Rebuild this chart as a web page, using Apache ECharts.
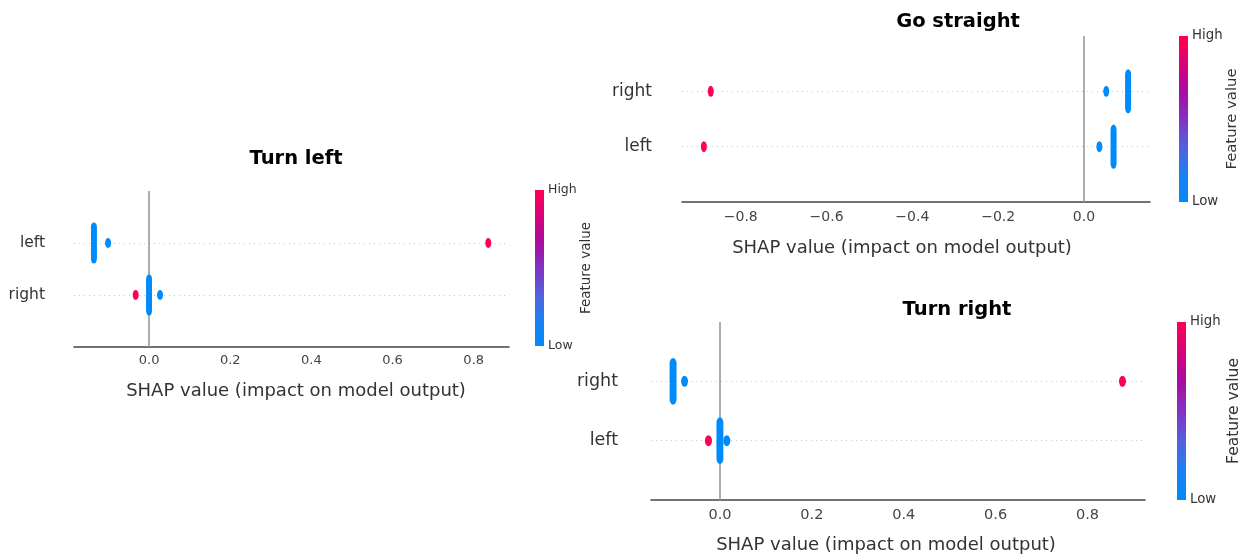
<!DOCTYPE html>
<html>
<head>
<meta charset="utf-8">
<script src="https://cdn.jsdelivr.net/npm/echarts@6/dist/echarts.min.js"></script>
<style>
  html, body { margin: 0; padding: 0; background: #fff; }
  #chart { width: 1245px; height: 557px; }
</style>
</head>
<body>
<div id="chart"></div>
<script>
// Feature names, bottom row first
const turnLeftFeatures = ['right', 'left'];
const goStraightFeatures = ['left', 'right'];
const turnRightFeatures = ['left', 'right'];

// SHAP clusters per feature: [shap value, feature value (0 = low, 1 = high), sample count]
const turnLeftRight = [[-0.033, 1, 1], [0.000, 0, 11], [0.027, 0, 1]];
const turnLeftLeft = [[-0.136, 0, 11], [-0.101, 0, 1], [0.836, 1, 1]];
const goStraightLeft = [[-0.886, 1, 1], [0.036, 0, 1], [0.069, 0, 11]];
const goStraightRight = [[-0.870, 1, 1], [0.052, 0, 1], [0.103, 0, 11]];
const turnRightLeft = [[-0.025, 1, 1], [0.000, 0, 11], [0.015, 0, 1]];
const turnRightRight = [[-0.102, 0, 11], [-0.077, 0, 1], [0.876, 1, 1]];

const panelTitles = ['Turn left', 'Go straight', 'Turn right'];
const xAxisTitle = 'SHAP value (impact on model output)';
const colorbarTitle = 'Feature value';
const colorbarLabels = ['High', 'Low'];

// Low -> high feature value colour ramp
const ramp = ['#008bfb', '#1b80f3', '#5560dc', '#8332c2', '#a80c9f', '#d8017a', '#ff0052'];
const FONT = 'DejaVu Sans';

const panels = [
  { features: turnLeftFeatures, rows: [turnLeftRight, turnLeftLeft],
    grid: { left: 74, top: 191, width: 435, height: 156 }, xMin: -0.185, xMax: 0.887,
    titleX: 296, titleY: 149, nameX: 296, dot: [6, 10], tickFont: 13, labelFont: 15.5, nameGap: 35,
    labelMargin: 7, yLabelMargin: 29,
    bar: { x: 535, y: 190, w: 9, h: 156 }, cbFont: 12.5, cbTitleFont: 13.5, cbTitleX: 586 },
  { features: goStraightFeatures, rows: [goStraightLeft, goStraightRight],
    grid: { left: 682, top: 36, width: 468, height: 166 }, xMin: -0.937, xMax: 0.154,
    titleX: 958, titleY: 12, nameX: 902, dot: [6, 11], tickFont: 14, labelFont: 17, nameGap: 37,
    labelMargin: 8, yLabelMargin: 30,
    bar: { x: 1179, y: 36, w: 9, h: 166 }, cbFont: 13.3, cbTitleFont: 14.8, cbTitleX: 1232 },
  { features: turnRightFeatures, rows: [turnRightLeft, turnRightRight],
    grid: { left: 651, top: 322, width: 494, height: 178 }, xMin: -0.150, xMax: 0.925,
    titleX: 957, titleY: 300, nameX: 886, dot: [7, 11], tickFont: 14.5, labelFont: 17.5, nameGap: 36,
    labelMargin: 8, yLabelMargin: 33,
    bar: { x: 1177, y: 322, w: 9, h: 178 }, cbFont: 13.3, cbTitleFont: 15.5, cbTitleX: 1234 }
];

// Beeswarm stacking: points of one cluster are layered around the row centre
function swarm(rows) {
  const pts = [];
  rows.forEach((clusters, row) => {
    let maxLayer = 0;
    clusters.forEach(c => { maxLayer = Math.max(maxLayer, Math.ceil((c[2] - 1) / 2)); });
    const step = 0.9 * 0.4 / (maxLayer + 1);
    clusters.forEach(([v, level, n]) => {
      for (let i = 0; i < n; i++) {
        const k = Math.ceil(i / 2) * (i % 2 ? 1 : -1);
        pts.push([v, row + k * step, level]);
      }
    });
  });
  return pts;
}

const tickText = v => (v < 0 ? '\u2212' : '') + Math.abs(v).toFixed(1);

const grids = [], xAxes = [], yAxes = [], series = [], titles = [], graphics = [];
const dotSeries = [];

panels.forEach((p, i) => {
  grids.push(Object.assign({ containLabel: false }, p.grid));
  titles.push({
    text: panelTitles[i], left: p.titleX, top: p.titleY,
    textAlign: 'center', padding: 0,
    textStyle: { fontFamily: FONT, fontWeight: 'bold', fontSize: 19.5, color: '#000' }
  });
  // shift the centred axis title horizontally with asymmetric padding
  const shift = 2 * (p.nameX - (p.grid.left + p.grid.width / 2));
  xAxes.push({
    type: 'value', gridIndex: i, min: p.xMin, max: p.xMax, splitNumber: 5,
    name: xAxisTitle, nameLocation: 'middle', nameGap: p.nameGap,
    nameTextStyle: { fontFamily: FONT, fontSize: 18, color: '#333',
      padding: shift >= 0 ? [0, 0, 0, shift] : [0, -shift, 0, 0] },
    axisLine: { show: true, onZero: false, lineStyle: { color: '#444', width: 1.6 } },
    axisTick: { show: false },
    splitLine: { show: false },
    axisLabel: { fontFamily: FONT, fontSize: p.tickFont, color: '#444', margin: p.labelMargin,
      showMinLabel: false, showMaxLabel: false, formatter: tickText }
  });
  yAxes.push({
    type: 'value', gridIndex: i, min: -1, max: 2, interval: 1,
    axisLine: { show: false }, axisTick: { show: false }, splitLine: { show: false },
    axisLabel: { fontFamily: FONT, fontSize: p.labelFont, color: '#333', margin: p.yLabelMargin,
      formatter: v => (v === 0 || v === 1) ? p.features[v] : '' }
  });
  // zero line and dotted row guides behind the dots
  series.push({
    type: 'scatter', xAxisIndex: i, yAxisIndex: i, data: [], z: 1, silent: true,
    markLine: {
      silent: true, symbol: 'none', label: { show: false }, animation: false,
      data: [
        { yAxis: 0, lineStyle: { color: '#c8c8c8', width: 1, type: [1, 4] } },
        { yAxis: 1, lineStyle: { color: '#c8c8c8', width: 1, type: [1, 4] } },
        { xAxis: 0, lineStyle: { color: '#999', width: 1.6, type: 'solid' } }
      ]
    }
  });
  dotSeries.push(series.length);
  series.push({
    type: 'scatter', xAxisIndex: i, yAxisIndex: i, z: 5, silent: true,
    symbol: 'circle', symbolSize: p.dot,
    itemStyle: { opacity: 1 },
    data: swarm(p.rows)
  });

  // colour bar with its labels
  const b = p.bar;
  graphics.push({
    type: 'rect', silent: true,
    shape: { x: b.x, y: b.y, width: b.w, height: b.h },
    style: { fill: { type: 'linear', x: 0, y: 0, x2: 0, y2: 1,
      colorStops: ramp.slice().reverse().map((c, j) => ({ offset: j / (ramp.length - 1), color: c })) } }
  });
  graphics.push({
    type: 'text', silent: true,
    style: { x: b.x + b.w + 4, y: b.y, text: colorbarLabels[0], fill: '#333',
      font: p.cbFont + 'px "' + FONT + '"', align: 'left', verticalAlign: 'middle' }
  });
  graphics.push({
    type: 'text', silent: true,
    style: { x: b.x + b.w + 4, y: b.y + b.h, text: colorbarLabels[1], fill: '#333',
      font: p.cbFont + 'px "' + FONT + '"', align: 'left', verticalAlign: 'middle' }
  });
  graphics.push({
    type: 'text', silent: true, x: p.cbTitleX, y: b.y + b.h / 2, rotation: Math.PI / 2,
    style: { x: 0, y: 0, text: colorbarTitle, fill: '#333',
      font: p.cbTitleFont + 'px "' + FONT + '"', align: 'center', verticalAlign: 'middle' }
  });
});

const chart = echarts.init(document.getElementById('chart'), null, { renderer: 'canvas' });
chart.setOption({
  animation: false,
  backgroundColor: '#fff',
  title: titles,
  grid: grids,
  xAxis: xAxes,
  yAxis: yAxes,
  visualMap: {
    type: 'continuous', show: false, min: 0, max: 1, dimension: 2,
    seriesIndex: dotSeries, inRange: { color: ramp }
  },
  series: series,
  graphic: graphics
});
</script>
</body>
</html>
